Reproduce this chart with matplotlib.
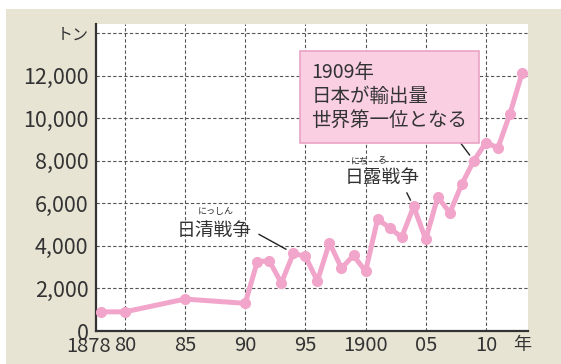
import matplotlib.pyplot as plt
from matplotlib.patches import Rectangle

plt.rcParams['font.family'] = ['Noto Sans CJK JP', 'DejaVu Sans']

# 生糸輸出量（トン）
years = [1878, 1880, 1885, 1890, 1891, 1892, 1893, 1894, 1895, 1896, 1897,
         1898, 1899, 1900, 1901, 1902, 1903, 1904, 1905, 1906, 1907, 1908,
         1909, 1910, 1911, 1912, 1913]
tons = [900, 900, 1500, 1300, 3250, 3300, 2250, 3650, 3500, 2350, 4150,
        2950, 3550, 2800, 5250, 4850, 4400, 5850, 4300, 6300, 5550, 6900,
        8000, 8850, 8600, 10200, 12100]

y_ticks = [0, 2000, 4000, 6000, 8000, 10000, 12000, 14000]
y_labels = ['0', '2,000', '4,000', '6,000', '8,000', '10,000', '12,000', 'トン']
x_ticks = [1880, 1885, 1890, 1895, 1900, 1905, 1910]
x_labels = ['80', '85', '90', '95', '1900', '05', '10']

pink = '#F2A5CA'
ink = '#333333'
beige = '#E7E4D4'

fig = plt.figure(figsize=(5.61, 3.64), dpi=100)
fig.patch.set_facecolor('white')
fig.patches.append(Rectangle((6 / 561, 0), 1, 355 / 364, transform=fig.transFigure,
                             facecolor=beige, edgecolor='none', zorder=-10))

ax = fig.add_axes([96 / 561, 33 / 364, 432 / 561, 307 / 364])
ax.set_facecolor('white')
ax.plot(years, tons, color=pink, lw=3.6, marker='o', ms=7,
        solid_joinstyle='round', clip_on=False, zorder=3)

ax.set_xlim(1877.6, 1913.5)
ax.set_ylim(0, 14420)
ax.set_xticks(x_ticks)
ax.set_xticklabels(x_labels, fontsize=14.5)
ax.set_yticks(y_ticks)
ax.set_yticklabels(y_labels, fontsize=15.5)
ax.get_yticklabels()[-1].set_fontsize(11.5)
ax.tick_params(length=0, labelcolor=ink)
ax.tick_params(axis='y', pad=5.5)
ax.tick_params(axis='x', pad=3)
ax.grid(True, linestyle=(0, (3, 2)), color='#555555', lw=0.8)
ax.set_axisbelow(True)
for s in ['top', 'right']:
    ax.spines[s].set_visible(False)
for s in ['left', 'bottom']:
    ax.spines[s].set_color(ink)
    ax.spines[s].set_linewidth(1.6)

# 軸の端のラベル
xt = ax.get_xaxis_transform()
ax.text(1876.95, -0.0155, '1878', transform=xt, ha='center', va='top',
        fontsize=14.5, color=ink)
ax.text(1913.0, -0.0155, '年', transform=xt, ha='center', va='top',
        fontsize=13, color=ink)

# 日清戦争
i94 = years.index(1894)
ax.annotate('日清戦争', xy=(years[i94], tons[i94]), xytext=(1890.5, 4740),
            ha='right', va='center', fontsize=13.5, color=ink,
            arrowprops=dict(arrowstyle='-', color='#222222', lw=1.0,
                            relpos=(1, 0.5), shrinkA=4, shrinkB=6))
ax.text(1887.6, 5620, 'にっしん', ha='center', va='center', fontsize=6.5, color=ink)

# 日露戦争
i04 = years.index(1904)
ax.annotate('日露戦争', xy=(years[i04], tons[i04]), xytext=(1901.4, 7233),
            ha='center', va='center', fontsize=13.5, color=ink,
            arrowprops=dict(arrowstyle='-', color='#222222', lw=1.0,
                            relpos=(0.79, 0), shrinkA=2, shrinkB=5))
ax.text(1899.5, 8000, 'にち', ha='center', va='center', fontsize=6.5, color=ink)
ax.text(1901.3, 8000, 'ろ', ha='center', va='center', fontsize=6.5, color=ink)

# 1909年の吹き出し
i09 = years.index(1909)
ax.annotate('1909年\n日本が輸出量\n世界第一位となる', xy=(years[i09], tons[i09]),
            xytext=(1895.5, 11000), ha='left', va='center', fontsize=14,
            color=ink, linespacing=1.18, zorder=5,
            bbox=dict(boxstyle='square,pad=0.6', facecolor='#F9CFE1',
                      edgecolor='#E9A3C5', lw=1.2),
            arrowprops=dict(arrowstyle='-', color='#222222', lw=1.0,
                            relpos=(0.9, 0), shrinkA=0, shrinkB=5))

fig.savefig('out.png', dpi=100, facecolor=fig.get_facecolor())
